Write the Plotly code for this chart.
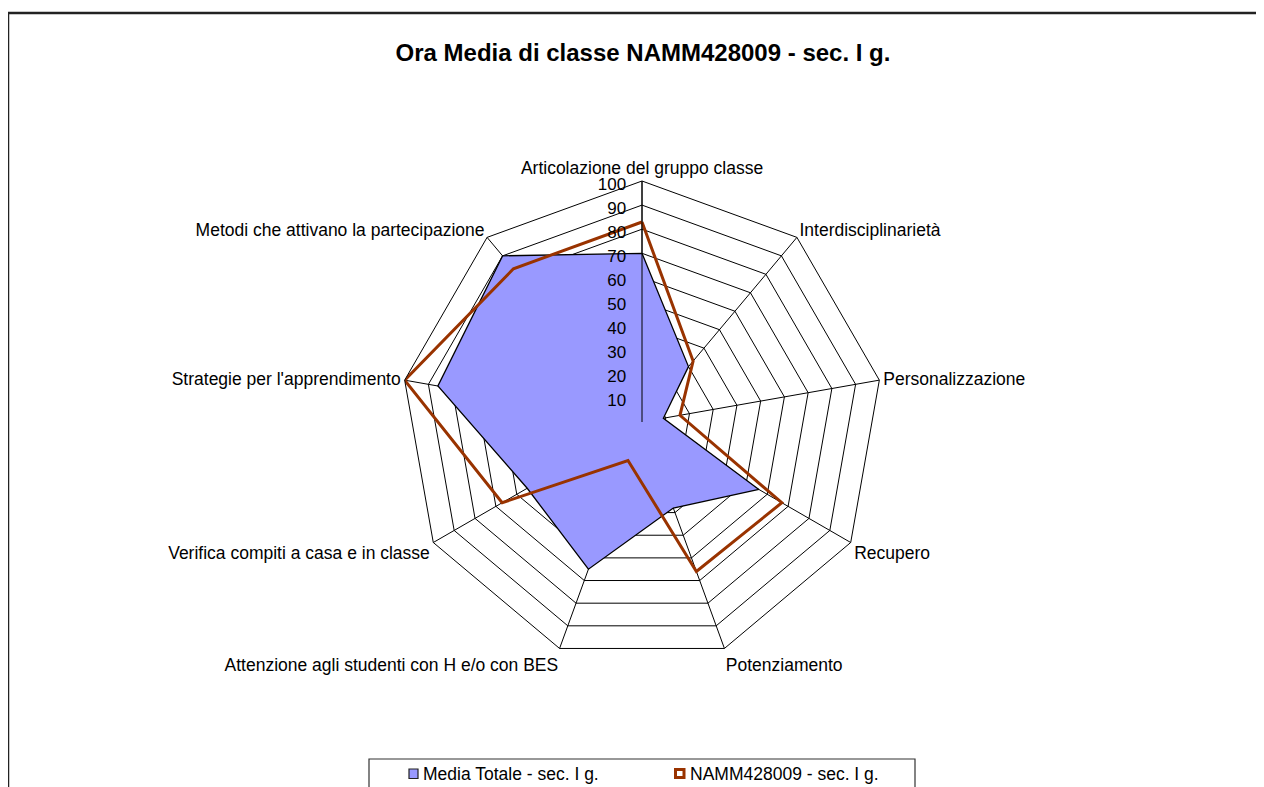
import plotly.graph_objects as go

categories = [
    "Articolazione del gruppo classe",
    "Interdisciplinarietà",
    "Personalizzazione",
    "Recupero",
    "Potenziamento",
    "Attenzione agli studenti con H e/o con BES",
    "Verifica compiti a casa e in classe",
    "Strategie per l'apprendimento",
    "Metodi che attivano la partecipazione",
]
media_totale = [70, 30, 9, 56, 38, 65, 55, 86, 90]
namm = [83, 33, 16, 67, 66, 17, 67, 100, 83]
radial_ticks = [10, 20, 30, 40, 50, 60, 70, 80, 90, 100]
series_names = ["Media Totale - sec. I g.", "NAMM428009 - sec. I g."]
title_text = "Ora Media di classe NAMM428009 - sec. I g."

W, H = 1264, 787
OFF = 8  # page body margin
FONT = "Liberation Sans, Arial, sans-serif"

def px(x):
    return (x - OFF) / W

def py(y):
    return 1 - (y - OFF) / H

fig = go.Figure()
fig.add_trace(go.Scatterpolar(
    r=media_totale + [media_totale[0]],
    theta=categories + [categories[0]],
    mode="lines",
    fill="toself",
    fillcolor="#9999FF",
    line=dict(color="black", width=1.3),
    name=series_names[0],
    showlegend=False,
))
fig.add_trace(go.Scatterpolar(
    r=namm + [namm[0]],
    theta=categories + [categories[0]],
    mode="lines",
    line=dict(color="#993300", width=3),
    name=series_names[1],
    showlegend=False,
))

cx, cy, R = 642, 422, 241
fig.update_layout(
    width=W, height=H,
    margin=dict(l=0, r=0, t=0, b=0, autoexpand=False),
    paper_bgcolor="white",
    font=dict(family=FONT, color="black", size=17),
    title=dict(text="<b>" + title_text + "</b>", x=px(643), y=py(53),
               xanchor="center", yanchor="middle",
               font=dict(family=FONT, size=24, color="black")),
    polar=dict(
        domain=dict(x=[px(cx - R), px(cx + R)], y=[py(cy + R), py(cy - R)]),
        bgcolor="white",
        gridshape="linear",
        radialaxis=dict(
            range=[0, 100], tickvals=radial_ticks,
            showline=True, linecolor="black", linewidth=1,
            gridcolor="black", gridwidth=1,
            ticks="", angle=90, side="counterclockwise",
            tickfont=dict(size=17, family=FONT, color="black"),
        ),
        angularaxis=dict(
            direction="clockwise", rotation=90,
            showline=True, linecolor="black", linewidth=1,
            gridcolor="black", gridwidth=1, ticks="",
            tickfont=dict(size=17.5, family=FONT, color="black"),
        ),
    ),
    showlegend=False,
)

# outer frame
fig.add_shape(type="rect", xref="paper", yref="paper",
              x0=px(8), y0=py(820), x1=px(1290), y1=py(13),
              line=dict(color="#222222", width=2.5), fillcolor="rgba(0,0,0,0)")
# legend box
fig.add_shape(type="rect", xref="paper", yref="paper",
              x0=px(369), y0=py(820), x1=px(915), y1=py(759),
              line=dict(color="#333333", width=1.2), fillcolor="white")
# legend symbols
fig.add_shape(type="rect", xref="paper", yref="paper",
              x0=px(409), y0=py(778.5), x1=px(418), y1=py(769),
              line=dict(color="#222222", width=1.2), fillcolor="#9999FF")
fig.add_shape(type="rect", xref="paper", yref="paper",
              x0=px(675.5), y0=py(777.5), x1=px(684), y1=py(769.5),
              line=dict(color="#993300", width=3), fillcolor="white")
fig.add_annotation(text=series_names[0], xref="paper", yref="paper",
                   x=px(421), y=py(774), xanchor="left", yanchor="middle",
                   showarrow=False, font=dict(family=FONT, size=17.5, color="black"))
fig.add_annotation(text=series_names[1], xref="paper", yref="paper",
                   x=px(688), y=py(774), xanchor="left", yanchor="middle",
                   showarrow=False, font=dict(family=FONT, size=17.5, color="black"))

fig.write_html("out.html")
